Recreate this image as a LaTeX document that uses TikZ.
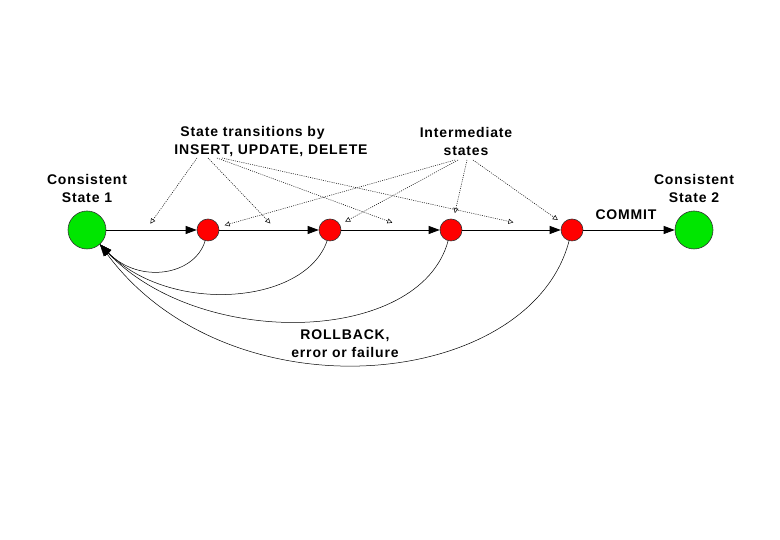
\documentclass[tikz,border=0pt]{standalone}
\usepackage{fontspec}
\setmainfont{Liberation Sans}[LetterSpace=6]
\usetikzlibrary{arrows.meta}
\definecolor{okgreen}{RGB}{0,230,0}
\definecolor{midred}{RGB}{255,0,0}
\begin{document}
\begin{tikzpicture}[x=1pt,y=1pt,
  every node/.style={font=\fontsize{14}{18}\selectfont\bfseries},
  goodstate/.style={circle,draw=black!80,line width=0.6pt,fill=okgreen,minimum size=38pt,inner sep=0pt},
  midstate/.style={circle,draw=black!80,line width=0.6pt,fill=midred,minimum size=22pt,inner sep=0pt},
  flow/.style={line width=0.8pt,-{Triangle[length=11pt,width=8pt]}},
  back/.style={line width=0.5pt,-{Triangle[length=12pt,width=8pt]}},
  hint/.style={line width=0.5pt,dash pattern=on 1pt off 1.2pt,-{Triangle[open,length=5pt,width=5pt,line width=0.5pt]}},
  lbl/.style={align=center,inner sep=0pt}]
\useasboundingbox (0,0) rectangle (780,540);
\node[goodstate] (g1) at (87,310) {};
\node[midstate] (r1) at (208,310) {};
\node[midstate] (r2) at (330,310) {};
\node[midstate] (r3) at (451,310) {};
\node[midstate] (r4) at (572,310) {};
\node[goodstate] (g2) at (694,310) {};
\draw[flow] (g1) -- (r1) coordinate[pos=0.5] (m1);
\draw[flow] (r1) -- (r2) coordinate[pos=0.5] (m2);
\draw[flow] (r2) -- (r3) coordinate[pos=0.5] (m3);
\draw[flow] (r3) -- (r4) coordinate[pos=0.5] (m4);
\draw[flow] (r4) -- (g2);
% labels
\node[lbl] (cs1) at (87,351) {Consistent\\State 1};
\node[lbl] (cs2) at (694,351) {Consistent\\State 2};
\node[lbl] (commit) at (626,325) {COMMIT};
\node[lbl,align=left] (trans) at (271,398) {\hspace*{6pt}State transitions by\\INSERT, UPDATE, DELETE};
\node[lbl] (inter) at (466,398) {Intermediate\\states};
\node[lbl] (rb) at (345,196) {ROLLBACK,\\error or failure};
% hint arrows
\coordinate (ta) at (197,382);
\coordinate (tb) at (208,382);
\coordinate (tc) at (217,382);
\coordinate (td) at (222,382);
\draw[hint,shorten >=-2pt] (ta) -- ([yshift=8pt]m1);
\draw[hint,shorten >=-2pt] (tb) -- ([yshift=8pt]m2);
\draw[hint,shorten >=-2pt] (tc) -- ([yshift=8pt]m3);
\draw[hint,shorten >=-2pt] (td) -- ([yshift=8pt]m4);
\coordinate (ia) at (455,380);
\coordinate (ib) at (458,380);
\coordinate (ic) at (467,380);
\coordinate (id) at (473,380);
\draw[hint,shorten >=6pt] (ia) -- (r1);
\draw[hint,shorten >=6pt] (ib) -- (r2);
\draw[hint,shorten >=6pt] (ic) -- (r3);
\draw[hint,shorten >=6pt] (id) -- (r4);
% rollback arcs
\draw[back] (r1.-105) .. controls (195,265) and (140,255) .. (g1.-48);
\draw[back] (r2.-105) .. controls (305,235) and (170,225) .. (g1.-48);
\draw[back] (r3.-105) .. controls (420,195) and (200,190) .. (g1.-48);
\draw[back] (r4.-105) .. controls (530,150) and (230,120) .. (g1.-48);
\end{tikzpicture}
\end{document}
